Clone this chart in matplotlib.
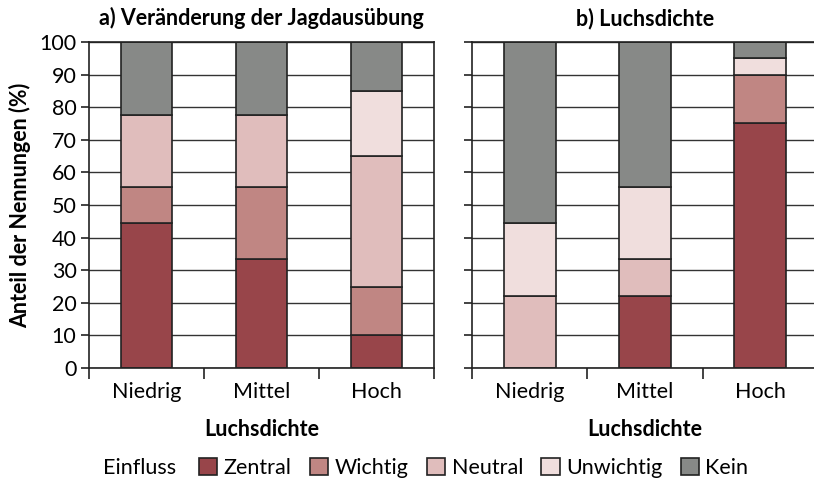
import numpy as np
import matplotlib.pyplot as plt
from matplotlib.patches import Patch

plt.rcParams['font.family'] = ['Lato', 'DejaVu Sans']

# Daten
kategorien = ["Niedrig", "Mittel", "Hoch"]
einfluss = ["Zentral", "Wichtig", "Neutral", "Unwichtig", "Kein"]
farben = ["#98454a", "#c08683", "#e0bdbc", "#f0dedd", "#878987"]

# a) Veränderung der Jagdausübung (Anteile in %)
a_werte = {
    "Zentral":   [44.4, 33.3, 10.0],
    "Wichtig":   [11.1, 22.2, 15.0],
    "Neutral":   [22.2, 22.2, 40.0],
    "Unwichtig": [0.0, 0.0, 20.0],
    "Kein":      [22.3, 22.3, 15.0],
}
# b) Luchsdichte
b_werte = {
    "Zentral":   [0.0, 22.2, 75.0],
    "Wichtig":   [0.0, 0.0, 15.0],
    "Neutral":   [22.2, 11.1, 0.0],
    "Unwichtig": [22.2, 22.2, 5.0],
    "Kein":      [55.6, 44.5, 5.0],
}
titel = ["a) Veränderung der Jagdausübung", "b) Luchsdichte"]

fs = 15.5
fig = plt.figure(figsize=(8.14, 4.83), dpi=100)
ax1 = fig.add_axes([89/814, 1-368/483, 345/814, 326/483])
ax2 = fig.add_axes([472/814, 1-368/483, 346/814, 326/483])

x = np.arange(len(kategorien))
for ax, werte, t in zip([ax1, ax2], [a_werte, b_werte], titel):
    ax.set_axisbelow(True)
    ax.yaxis.grid(True, color="#333333", lw=1)
    unten = np.zeros(len(kategorien))
    for name, farbe in zip(einfluss, farben):
        v = np.array(werte[name])
        for i in range(len(x)):
            if v[i] > 0:
                ax.bar(x[i], v[i], bottom=unten[i], width=0.45, color=farbe,
                       edgecolor="#222222", linewidth=1.2)
        unten += v
    ax.set_xlim(-0.5, 2.5)
    ax.set_ylim(0, 100)
    ax.set_yticks(np.arange(0, 101, 10))
    ax.set_xticks(x)
    ax.set_xticklabels(kategorien, fontsize=fs)
    ax.set_xticks([-0.5, 0.5, 1.5, 2.5], minor=True)
    ax.tick_params(axis="x", which="major", length=0, pad=10)
    ax.tick_params(axis="x", which="minor", length=8, width=1.2, color="#222222")
    ax.tick_params(axis="y", length=6, width=1.2, color="#222222", labelsize=fs, pad=3)
    for s in ax.spines.values():
        s.set_color("#222222")
        s.set_linewidth(1.2)
    ax.set_xlabel("Luchsdichte", fontsize=fs, fontweight="bold", labelpad=12)
    ax.set_title(t, fontsize=fs, fontweight="bold", pad=12)

ax2.set_yticklabels([])
ax1.set_ylabel("Anteil der Nennungen (%)", fontsize=fs, fontweight="bold", labelpad=6)

handles = [Patch(facecolor=f, edgecolor="#222222", linewidth=1.2) for f in farben]
fig.text(103/814, 1-468/483, "Einfluss", fontsize=fs, va="center")
fig.legend(handles, einfluss, loc="center left", bbox_to_anchor=(199/814, 1-468/483),
           ncol=5, frameon=False, fontsize=fs, handlelength=0.85, handleheight=0.85,
           handletextpad=0.3, columnspacing=0.85, borderpad=0, borderaxespad=0)

fig.savefig("out.png", dpi=100)
